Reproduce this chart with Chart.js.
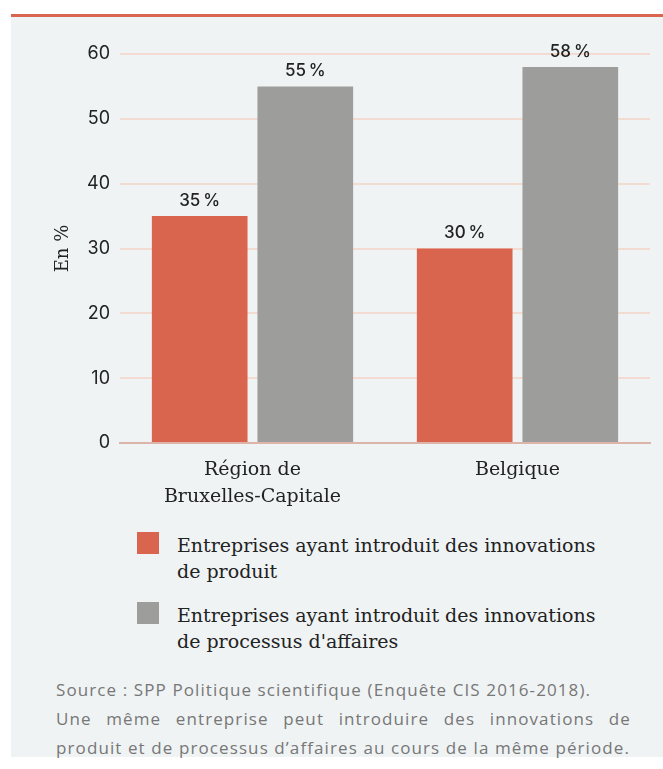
<!DOCTYPE html>
<html>
<head>
<meta charset="utf-8">
<script src="https://cdn.jsdelivr.net/npm/chart.js@4.4.0/dist/chart.umd.min.js"></script>
<style>
  body { margin: 0; background: #fff; width: 663px; height: 769px; position: relative; overflow: hidden; }
  .panel { position: absolute; left: 11px; top: 14px; width: 652px; height: 740px; background: #eff3f4; border-top: 3px solid #d9654e; }
  .chart-box { position: absolute; left: 11px; top: 17px; width: 652px; height: 500px; }
  .legend { position: absolute; left: 137px; top: 532px; font-family: "DejaVu Serif", serif; font-size: 19px; line-height: 26px; color: #222; }
  .legend .item { position: relative; padding-left: 40px; margin-bottom: 18px; }
  .legend .sw { position: absolute; left: 0; top: 0; width: 22px; height: 22px; }
  .source { position: absolute; left: 56px; top: 675px; width: 575px; font-family: "Open Sans", sans-serif; font-size: 17px; line-height: 29px; color: #777; letter-spacing: 1.1px; }
  .source .just { text-align: justify; text-align-last: left; }
</style>
</head>
<body>
<div class="panel"></div>
<div class="chart-box"><canvas id="innovChart"></canvas></div>
<div class="legend" id="legend"></div>
<div class="source">
  <div>Source : SPP Politique scientifique (Enquête CIS 2016-2018).</div>
  <div class="just">Une même entreprise peut introduire des innovations de produit et de processus d’affaires au cours de la même période.</div>
</div>
<script>
const categories = [['Région de', 'Bruxelles-Capitale'], 'Belgique'];
const productValues = [35, 30];
const processValues = [55, 58];
const seriesNames = [
  ['Entreprises ayant introduit des innovations', 'de produit'],
  ['Entreprises ayant introduit des innovations', "de processus d'affaires"]
];
const seriesColors = ['#d9654e', '#9d9d9b'];
const yTicks = [0, 10, 20, 30, 40, 50, 60];

// value labels above bars
const valueLabels = {
  id: 'valueLabels',
  afterDatasetsDraw(chart) {
    const ctx = chart.ctx;
    ctx.save();
    ctx.font = '500 17px Inter, sans-serif';
    ctx.fillStyle = '#222';
    ctx.textAlign = 'center';
    ctx.textBaseline = 'bottom';
    chart.data.datasets.forEach((ds, i) => {
      chart.getDatasetMeta(i).data.forEach((bar, j) => {
        ctx.fillText(ds.data[j] + '\u202f%', bar.x, bar.y - 7);
      });
    });
    ctx.restore();
  }
};

const ctx = document.getElementById('innovChart').getContext('2d');
new Chart(ctx, {
  type: 'bar',
  data: {
    labels: categories,
    datasets: [
      { label: seriesNames[0].join(' '), data: productValues, backgroundColor: seriesColors[0] },
      { label: seriesNames[1].join(' '), data: processValues, backgroundColor: seriesColors[1] }
    ]
  },
  options: {
    responsive: true,
    maintainAspectRatio: false,
    animation: false,
    layout: { padding: { top: 37, right: 13, left: 0, bottom: 0 } },
    datasets: { bar: { categoryPercentage: 0.797, barPercentage: 0.906 } },
    plugins: {
      legend: { display: false },
      tooltip: { enabled: false }
    },
    scales: {
      x: {
        grid: { display: false },
        border: { display: true, color: '#dcb4a9', width: 2 },
        ticks: {
          color: '#222',
          font: { family: 'DejaVu Serif', size: 19, lineHeight: 1.45 },
          padding: 5,
          maxRotation: 0
        },
        afterFit(scale) { scale.height = 74; }
      },
      y: {
        min: 0,
        max: 60,
        afterBuildTicks(scale) { scale.ticks = yTicks.map(v => ({ value: v })); },
        grid: { color: '#f3dbd2', lineWidth: 2, drawTicks: false },
        border: { display: false },
        ticks: {
          color: '#222',
          font: { family: 'Inter', size: 18 },
          padding: 10
        },
        title: {
          display: true,
          text: 'En %',
          color: '#222',
          font: { family: 'DejaVu Serif', size: 18 },
          padding: { top: 42, bottom: 0 }
        },
        afterFit(scale) { scale.width = 109; }
      }
    }
  },
  plugins: [valueLabels]
});

// legend in HTML so the two-line labels wrap like the original
const legendEl = document.getElementById('legend');
seriesNames.forEach((lines, i) => {
  const item = document.createElement('div');
  item.className = 'item';
  item.innerHTML = '<span class="sw" style="background:' + seriesColors[i] + '"></span>' + lines.join('<br>');
  legendEl.appendChild(item);
});
</script>
</body>
</html>
